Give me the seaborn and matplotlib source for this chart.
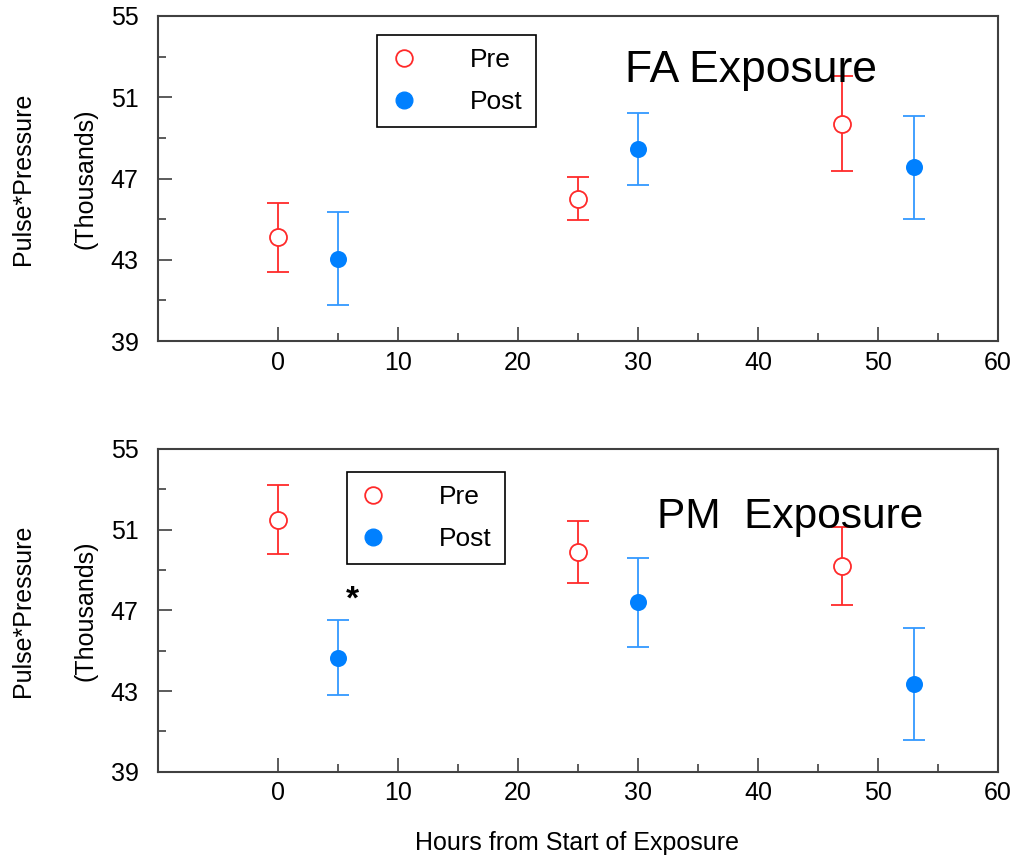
import matplotlib
matplotlib.use("Agg")
import matplotlib.pyplot as plt
from matplotlib.lines import Line2D
from matplotlib.ticker import FixedLocator
import seaborn as sns
import pandas as pd

# data
hours_pre = [0, 25, 47]
hours_post = [5, 30, 53]

fa_pre = [44.1, 46.0, 49.7]
fa_pre_err = [1.7, 1.05, 2.35]
fa_post = [43.05, 48.45, 47.55]
fa_post_err = [2.3, 1.75, 2.55]

pm_pre = [51.5, 49.9, 49.2]
pm_pre_err = [1.7, 1.55, 1.95]
pm_post = [44.65, 47.4, 43.35]
pm_post_err = [1.85, 2.2, 2.8]

x_ticks = [0, 10, 20, 30, 40, 50, 60]
y_ticks = [39, 43, 47, 51, 55]

sns.set_style("ticks")
plt.rcParams["font.family"] = ["Liberation Sans", "DejaVu Sans"]
plt.rcParams["text.color"] = "black"
plt.rcParams["axes.labelcolor"] = "black"

RED = "#ff2a2a"
BLUE = "#0080ff"
BLUE_BAR = "#3399ff"
SPINE = "#404040"

fig = plt.figure(figsize=(10.14, 8.59), dpi=100)
ax1 = fig.add_axes([0.1558, 0.603, 0.8284, 0.3784])
ax2 = fig.add_axes([0.1558, 0.1016, 0.8284, 0.3757])


def panel(ax, pre, pre_err, post, post_err, title, tsize, tx, ty, lx, ly):
    df_pre = pd.DataFrame({"hours": hours_pre, "value": pre})
    df_post = pd.DataFrame({"hours": hours_post, "value": post})
    ax.errorbar(hours_pre, pre, yerr=pre_err, fmt="none", ecolor=RED,
                elinewidth=1.3, capsize=8, capthick=1.3, zorder=2)
    ax.errorbar(hours_post, post, yerr=post_err, fmt="none", ecolor=BLUE_BAR,
                elinewidth=1.3, capsize=8, capthick=1.3, zorder=2)
    sns.scatterplot(data=df_pre, x="hours", y="value", ax=ax, s=150,
                    facecolor="white", edgecolor=RED, linewidth=1.3, zorder=3)
    sns.scatterplot(data=df_post, x="hours", y="value", ax=ax, s=150,
                    color=BLUE, edgecolor=BLUE, linewidth=0, zorder=3)

    ax.set_xlim(-10, 60)
    ax.set_ylim(39, 55)
    ax.xaxis.set_major_locator(FixedLocator(x_ticks))
    ax.xaxis.set_minor_locator(FixedLocator([5, 15, 25, 35, 45, 55]))
    ax.yaxis.set_major_locator(FixedLocator(y_ticks))
    ax.yaxis.set_minor_locator(FixedLocator([41, 45, 49, 53]))
    ax.tick_params(which="both", direction="in", colors=SPINE,
                   labelcolor="black", labelsize=18, width=1.2)
    ax.tick_params(which="major", length=10)
    ax.tick_params(which="minor", length=6)
    ax.tick_params(axis="y", pad=14)
    ax.tick_params(axis="x", pad=7)
    for sp in ax.spines.values():
        sp.set_visible(True)
        sp.set_color(SPINE)
        sp.set_linewidth(1.5)
    ax.set_xlabel("")
    ax.set_ylabel("")

    ax.text(tx, ty, title, transform=ax.transAxes, fontsize=tsize,
            ha="left", va="baseline")

    handles = [
        Line2D([], [], marker="o", linestyle="none", markersize=12,
               markerfacecolor="white", markeredgecolor=RED, markeredgewidth=1.3),
        Line2D([], [], marker="o", linestyle="none", markersize=12,
               markerfacecolor=BLUE, markeredgecolor=BLUE),
    ]
    leg = ax.legend(handles, ["Pre", "Post"], loc="upper left",
                    bbox_to_anchor=(lx, ly), borderaxespad=0, fontsize=19,
                    frameon=True, fancybox=False, edgecolor="black",
                    handlelength=1.0, handletextpad=2.0, labelspacing=0.68,
                    borderpad=0.5)
    leg.get_frame().set_linewidth(1.2)
    leg.get_frame().set_alpha(1)


panel(ax1, fa_pre, fa_pre_err, fa_post, fa_post_err, "FA Exposure", 32,
      0.556, 0.797, 0.261, 0.942)
panel(ax2, pm_pre, pm_pre_err, pm_post, pm_post_err, "PM  Exposure", 30.5,
      0.594, 0.756, 0.225, 0.929)

# significance marker
ax2.text(6.2, 47.5, "*", fontsize=24, fontweight="bold", ha="center", va="center")

# y labels, two lines set apart as in the original
for ax_y in (0.603 + 0.3784 / 2, 0.1016 + 0.3757 / 2):
    fig.text(0.023, ax_y, "Pulse*Pressure", rotation=90, fontsize=18,
             ha="center", va="center")
    fig.text(0.084, ax_y, "(Thousands)", rotation=90, fontsize=18,
             ha="center", va="center")

fig.text(0.569, 1 - 843 / 859, "Hours from Start of Exposure", fontsize=18,
         ha="center", va="center")

fig.savefig("out.png", dpi=100)
